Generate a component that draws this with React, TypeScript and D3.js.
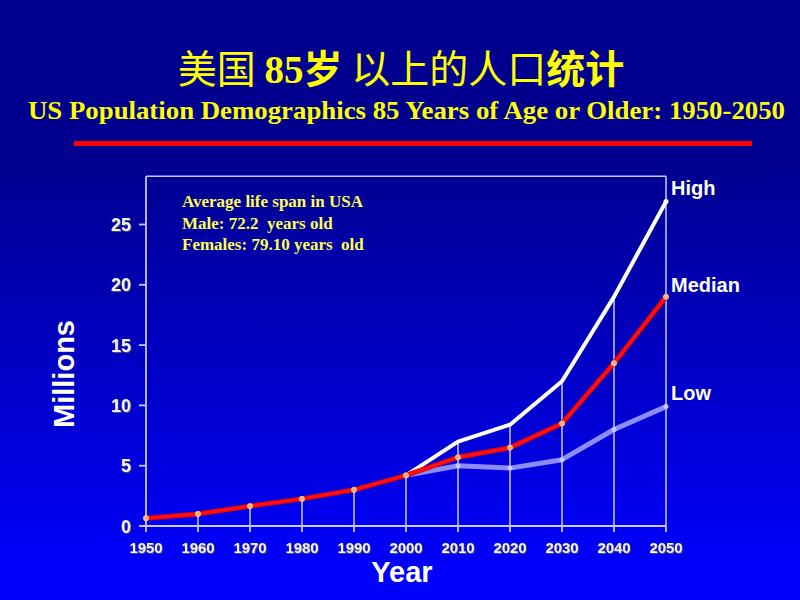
import React from "react";
import * as d3 from "d3";

const years = [1950, 1960, 1970, 1980, 1990, 2000, 2010, 2020, 2030, 2040, 2050];
const medianValues = [0.65, 1.0, 1.65, 2.25, 3.0, 4.2, 5.7, 6.5, 8.5, 13.5, 19.0];
const highValues = [0.65, 1.0, 1.65, 2.25, 3.0, 4.2, 7.0, 8.4, 12.0, 19.0, 26.9];
const lowValues = [0.65, 1.0, 1.65, 2.25, 3.0, 4.2, 5.0, 4.8, 5.5, 8.0, 9.9];
const yTicks = [0, 5, 10, 15, 20, 25];
const seriesLabels = ["High", "Median", "Low"];
const noteLines = ["Average life span in USA", "Male: 72.2  years old", "Females: 79.10 years  old"];

const W = 800;
const H = 600;
const x = d3.scaleLinear().domain([1950, 2050]).range([146, 666]);
const y = d3.scaleLinear().domain([0, 25]).range([526, 224.5]);
const yMax = 29;

const sans = "Arial, 'Liberation Sans', sans-serif";
const serif = "'Times New Roman', 'Liberation Serif', serif";
const cjk = "'Noto Sans CJK SC', sans-serif";

export default function App() {
  const line = d3
    .line<[number, number]>()
    .x((d) => x(d[0]))
    .y((d) => y(d[1]));
  const fromIdx = 5;
  const pairs = (vals: number[], start = 0) =>
    years.map((yr, i) => [yr, vals[i]] as [number, number]).slice(start);

  const axisColor = "#c8c8ff";
  const lastVals = [highValues[10], medianValues[10], lowValues[10]];
  const labelY = [195, 292, 400];

  return (
    <svg
      width={W}
      height={H}
      style={{ position: "fixed", left: 0, top: 0, display: "block" }}
    >
      <defs>
        <linearGradient id="bg" x1="0" y1="0" x2="0" y2="1">
          <stop offset="0" stopColor="#00008e" />
          <stop offset="0.26" stopColor="#00008e" />
          <stop offset="0.95" stopColor="#0000fc" />
          <stop offset="1" stopColor="#0000ff" />
        </linearGradient>
        <filter id="emb" x="-20%" y="-30%" width="140%" height="160%">
          <feDropShadow dx="1" dy="1" stdDeviation="0.4" floodColor="#505068" floodOpacity="1" />
        </filter>
      </defs>
      <rect x={0} y={0} width={W} height={H} fill="url(#bg)" />

      {/* Title */}
      <text x={401} y={83} textAnchor="middle" fill="#ffff00" fontSize={39}>
        <tspan fontFamily={cjk} fontWeight={400}>美国 </tspan>
        <tspan fontFamily={serif} fontWeight={700}>85</tspan>
        <tspan fontFamily={cjk} fontWeight={700}>岁 </tspan>
        <tspan fontFamily={cjk} fontWeight={400}>以上的人口</tspan>
        <tspan fontFamily={cjk} fontWeight={700}>统计</tspan>
      </text>
      <text
        x={28}
        y={119}
        fill="#ffff00"
        fontSize={25}
        fontWeight={700}
        fontFamily={serif}
        textLength={757}
        lengthAdjust="spacingAndGlyphs"
      >
        US Population Demographics 85 Years of Age or Older: 1950-2050
      </text>
      <rect x={74} y={141} width={678} height={5} fill="#ff0000" />

      {/* Frame */}
      <line x1={x(1950)} x2={x(2050)} y1={y(yMax)} y2={y(yMax)} stroke={axisColor} strokeWidth={1.5} />
      <line x1={x(2050)} x2={x(2050)} y1={y(yMax)} y2={y(0)} stroke={axisColor} strokeWidth={1.5} />
      <line x1={x(1950)} x2={x(1950)} y1={y(yMax)} y2={y(0)} stroke={axisColor} strokeWidth={1.8} />
      <line x1={139} x2={x(2050)} y1={y(0)} y2={y(0)} stroke={axisColor} strokeWidth={1.8} />

      {/* Y ticks */}
      {yTicks.map((t) => (
        <g key={"yt" + t}>
          <line x1={139} x2={x(1950)} y1={y(t)} y2={y(t)} stroke={axisColor} strokeWidth={1.8} />
          <text
            x={131}
            y={y(t) + 6.5}
            textAnchor="end"
            fontSize={18}
            fontWeight={700}
            fontFamily={sans}
            fill="#f0f0f0"
            filter="url(#emb)"
          >
            {t}
          </text>
        </g>
      ))}

      {/* X ticks and drop lines */}
      {years.map((yr, i) => (
        <g key={"xt" + yr}>
          <line x1={x(yr)} x2={x(yr)} y1={y(0)} y2={y(0) + 6} stroke={axisColor} strokeWidth={1.8} />
          {i > 0 && i < years.length - 1 && (
            <line
              x1={x(yr)}
              x2={x(yr)}
              y1={y(highValues[i])}
              y2={y(0)}
              stroke={axisColor}
              strokeWidth={1.5}
            />
          )}
          <text
            x={x(yr)}
            y={552.5}
            textAnchor="middle"
            fontSize={15}
            fontWeight={700}
            fontFamily={sans}
            fill="#f0f0f0"
            textLength={33}
            lengthAdjust="spacingAndGlyphs"
            filter="url(#emb)"
          >
            {yr}
          </text>
        </g>
      ))}

      {/* Series lines */}
      <path d={line(pairs(lowValues, fromIdx)) || ""} fill="none" stroke="#8c8cff" strokeWidth={5} strokeLinejoin="round" />
      <path d={line(pairs(highValues, fromIdx)) || ""} fill="none" stroke="#ffffe8" strokeWidth={4} strokeLinejoin="round" />
      <path d={line(pairs(medianValues)) || ""} fill="none" stroke="#e00000" strokeWidth={5} strokeLinejoin="round" />
      <path d={line(pairs(medianValues)) || ""} fill="none" stroke="#ff1010" strokeWidth={3} strokeLinejoin="round" />

      {/* Markers */}
      {pairs(lowValues, fromIdx + 1).map((d) => (
        <circle key={"lm" + d[0]} cx={x(d[0])} cy={y(d[1])} r={2.5} fill="#c8c8ff" />
      ))}
      <circle cx={x(2050)} cy={y(highValues[10])} r={2.5} fill="#ffffff" />
      {pairs(medianValues).map((d) => (
        <circle key={"mm" + d[0]} cx={x(d[0])} cy={y(d[1])} r={2.6} fill="#ffb070" stroke="#ffd0a0" strokeWidth={0.8} />
      ))}

      {/* Series labels */}
      {seriesLabels.map((s, i) => (
        <text
          key={s}
          x={671}
          y={labelY[i]}
          fontSize={20}
          fontWeight={700}
          fontFamily={sans}
          fill="#ffffff"
          data-value={lastVals[i]}
        >
          {s}
        </text>
      ))}

      {/* Note */}
      {noteLines.map((t, i) => (
        <text
          key={t}
          x={182}
          y={207 + i * 21.5}
          fontSize={17}
          fontWeight={700}
          fontFamily={serif}
          fill="#ffff50"
          style={{ whiteSpace: "pre" }}
        >
          {t}
        </text>
      ))}

      {/* Axis titles */}
      <text
        transform="translate(74,374) rotate(-90)"
        textAnchor="middle"
        fontSize={29}
        fontWeight={700}
        fontFamily={sans}
        fill="#ffffff"
      >
        Millions
      </text>
      <text x={402} y={582} textAnchor="middle" fontSize={29} fontWeight={700} fontFamily={sans} fill="#ffffff">
        Year
      </text>
    </svg>
  );
}
